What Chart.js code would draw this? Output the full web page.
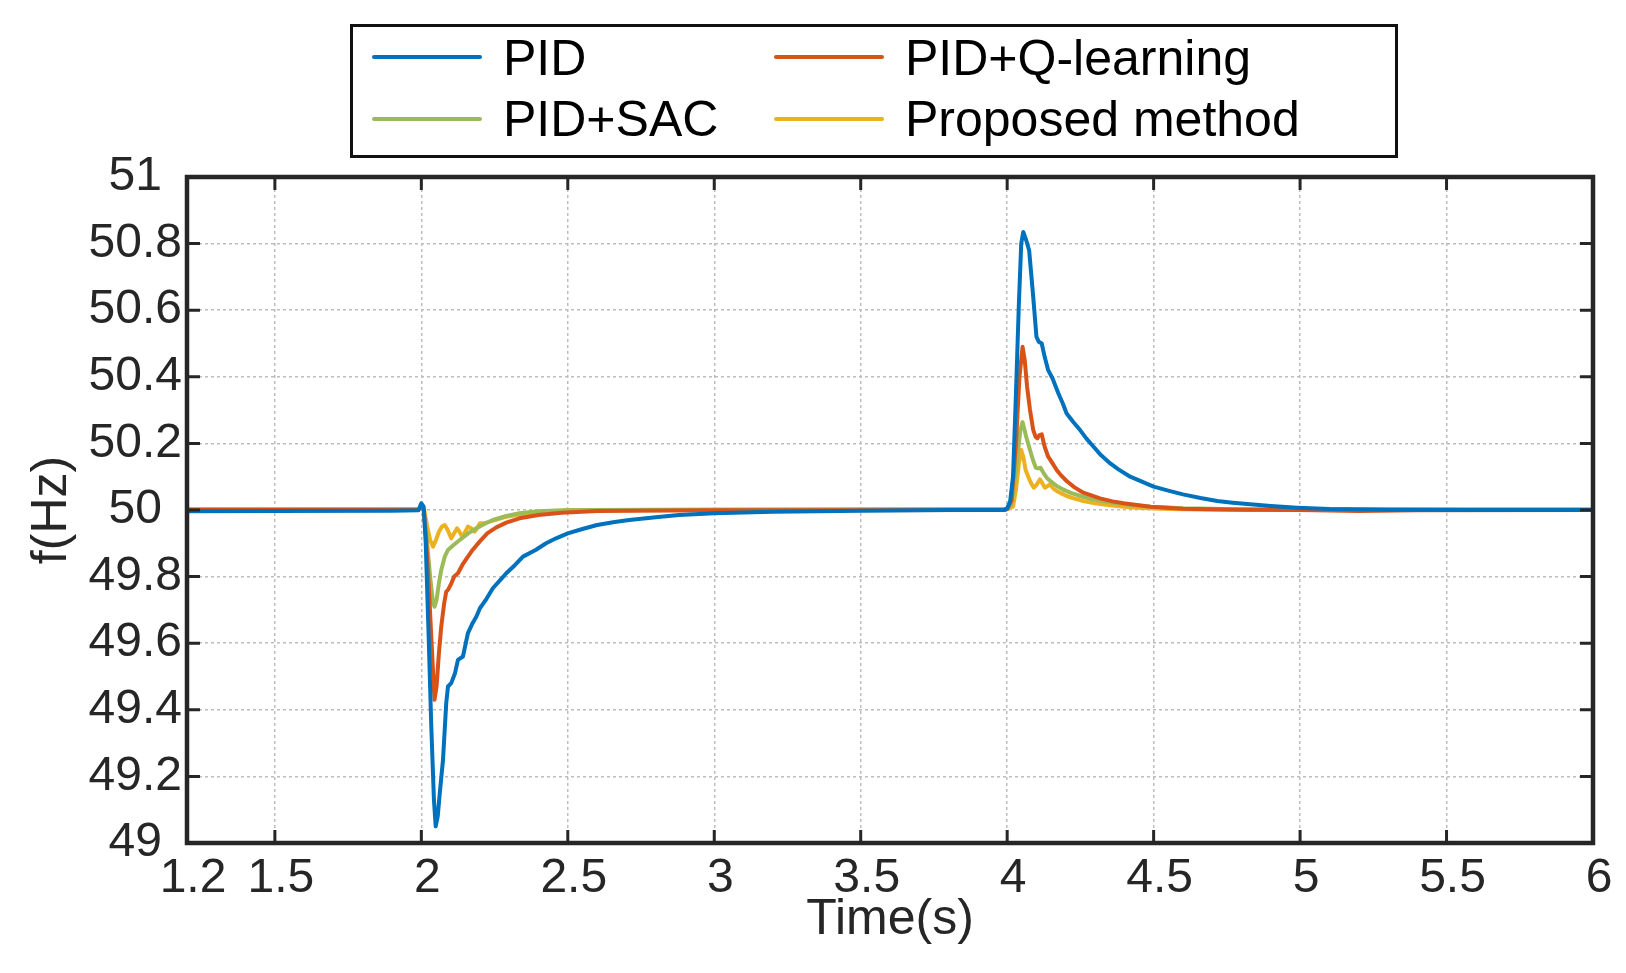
<!DOCTYPE html>
<html>
<head>
<meta charset="utf-8">
<title>Frequency response</title>
<script src="https://cdn.jsdelivr.net/npm/chart.js@4.4.1/dist/chart.umd.min.js"></script>
<style>
  body { margin: 0; background: #fff; }
  #wrap { position: relative; width: 1626px; height: 973px; }
  #legend { position: absolute; left: 350px; top: 24px; width: 1048px; height: 134px;
            border: 3px solid #111; box-sizing: border-box; background: #fff; }
  .label { position: absolute; font: 50px 'Liberation Sans', Arial, sans-serif; color: #000;
           line-height: 50px; white-space: nowrap; }
  .swatch { position: absolute; width: 110px; height: 4px; border-radius: 2px; }
</style>
</head>
<body>
<div id="wrap">
  <canvas id="chart" width="1626" height="973"></canvas>
  <div id="legend"></div>
</div>
<script>
const seriesNames = ['PID', 'PID+Q-learning', 'PID+SAC', 'Proposed method'];
const seriesColors = ['#0072BD', '#D95319', '#9BBB59', '#EDB120'];

const xTicks = [1.2, 1.5, 2, 2.5, 3, 3.5, 4, 4.5, 5, 5.5, 6];
const yTicks = [49, 49.2, 49.4, 49.6, 49.8, 50, 50.2, 50.4, 50.6, 50.8, 51];

// PID
const pidTime = [1.2, 1.5, 1.9, 1.99, 2.0, 2.008, 2.015, 2.025, 2.034, 2.043, 2.049, 2.056, 2.063, 2.074,
  2.085, 2.091, 2.102, 2.115, 2.125, 2.142, 2.159, 2.175, 2.188, 2.2, 2.22, 2.244, 2.27, 2.29, 2.32, 2.347,
  2.39, 2.426, 2.46, 2.5, 2.55, 2.6, 2.66, 2.71, 2.8, 2.88, 3.0, 3.2, 3.5, 3.8, 3.99,
  4.0, 4.01, 4.02, 4.03, 4.04, 4.048, 4.055, 4.065, 4.075, 4.088, 4.1, 4.108, 4.118, 4.128, 4.14, 4.155,
  4.175, 4.19, 4.203, 4.225, 4.249, 4.27, 4.295, 4.32, 4.352, 4.38, 4.42, 4.46, 4.5, 4.55, 4.6, 4.66,
  4.717, 4.77, 4.83, 4.9, 4.99, 5.1, 5.3, 5.6, 6.0];
const pidFreq = [49.996, 49.997, 49.998, 49.999, 50.02, 50.01, 49.9, 49.62, 49.35, 49.13, 49.05, 49.08, 49.15, 49.25,
  49.42, 49.47, 49.48, 49.51, 49.55, 49.56, 49.63, 49.66, 49.68, 49.705, 49.73, 49.765, 49.79, 49.81, 49.835, 49.86,
  49.88, 49.9, 49.915, 49.93, 49.943, 49.955, 49.964, 49.97, 49.978, 49.985, 49.99, 49.995, 49.998, 50, 50,
  50.005, 50.025, 50.1, 50.35, 50.62, 50.8, 50.835, 50.81, 50.78, 50.65, 50.52, 50.505, 50.5, 50.46, 50.42, 50.395,
  50.35, 50.32, 50.29, 50.265, 50.24, 50.215, 50.19, 50.165, 50.14, 50.122, 50.1, 50.085, 50.07, 50.058, 50.047, 50.036,
  50.027, 50.022, 50.017, 50.012, 50.007, 50.003, 50.001, 50, 50];

// PID+Q-learning
const qlTime = [1.2, 1.99, 2.0, 2.008, 2.015, 2.025, 2.035, 2.045, 2.052, 2.06, 2.068, 2.078, 2.085, 2.091,
  2.1, 2.112, 2.125, 2.14, 2.159, 2.175, 2.199, 2.225, 2.256, 2.29, 2.335, 2.4, 2.48, 2.6, 3.0, 3.99,
  4.0, 4.015, 4.03, 4.042, 4.0525, 4.06, 4.068, 4.078, 4.089, 4.097, 4.103, 4.11, 4.118, 4.128, 4.14, 4.155,
  4.169, 4.185, 4.203, 4.23, 4.26, 4.29, 4.317, 4.36, 4.397, 4.45, 4.49, 4.6, 4.8, 5.0, 5.2, 5.4, 6.0];
const qlFreq = [50, 50, 50.01, 50.0, 49.93, 49.78, 49.6, 49.43, 49.47, 49.57, 49.65, 49.72, 49.755, 49.76,
  49.775, 49.8, 49.81, 49.835, 49.86, 49.88, 49.905, 49.93, 49.948, 49.962, 49.975, 49.985, 49.992, 49.997, 49.999, 50,
  50.003, 50.03, 50.2, 50.4, 50.49, 50.45, 50.37, 50.3, 50.24, 50.22, 50.215, 50.225, 50.227, 50.19, 50.16, 50.14,
  50.12, 50.103, 50.087, 50.068, 50.052, 50.043, 50.035, 50.026, 50.02, 50.014, 50.01, 50.004, 50.001, 50, 49.997, 49.999, 50];

// PID+SAC
const sacTime = [1.2, 1.99, 2.0, 2.008, 2.018, 2.03, 2.04, 2.045, 2.052, 2.06, 2.068, 2.08, 2.091, 2.11,
  2.131, 2.16, 2.188, 2.215, 2.244, 2.29, 2.335, 2.4, 2.5, 3.99,
  4.0, 4.015, 4.03, 4.045, 4.0525, 4.065, 4.078, 4.088, 4.098, 4.106, 4.114, 4.125, 4.135, 4.15, 4.169,
  4.19, 4.215, 4.25, 4.283, 4.33, 4.374, 4.43, 4.49, 4.6, 4.8, 6.0];
const sacFreq = [50.002, 50.002, 50.01, 50.0, 49.92, 49.8, 49.72, 49.71, 49.73, 49.78, 49.82, 49.86, 49.88, 49.895,
  49.91, 49.93, 49.945, 49.958, 49.97, 49.982, 49.99, 49.996, 50, 50.002,
  50.002, 50.02, 50.12, 50.24, 50.264, 50.22, 50.18, 50.15, 50.127, 50.125, 50.127, 50.11, 50.097, 50.085, 50.072,
  50.062, 50.052, 50.042, 50.034, 50.026, 50.02, 50.014, 50.01, 50.005, 50.002, 50.002];

// Proposed method
const propTime = [1.2, 1.99, 2.0, 2.01, 2.02, 2.03, 2.04, 2.05, 2.06, 2.07, 2.08, 2.09, 2.102, 2.112,
  2.122, 2.13, 2.14, 2.15, 2.159, 2.17, 2.182, 2.19, 2.2, 2.215, 2.233, 2.26, 2.29, 2.33, 2.37, 2.45, 2.6, 3.99,
  4.0, 4.02, 4.03, 4.04, 4.048, 4.055, 4.063, 4.072, 4.082, 4.091, 4.1, 4.112, 4.12, 4.129, 4.138, 4.146,
  4.157, 4.169, 4.185, 4.203, 4.23, 4.26, 4.3, 4.352, 4.4, 4.443, 4.55, 4.7, 6.0];
const propFreq = [50.003, 50.003, 50.01, 50.0, 49.95, 49.91, 49.89, 49.91, 49.935, 49.95, 49.955, 49.94, 49.915, 49.93,
  49.945, 49.935, 49.92, 49.935, 49.95, 49.945, 49.935, 49.945, 49.96, 49.96, 49.965, 49.972, 49.98, 49.986, 49.99, 49.996, 50.0, 50.003,
  50.003, 50.01, 50.06, 50.14, 50.18, 50.16, 50.12, 50.1, 50.08, 50.067, 50.075, 50.092, 50.08, 50.067, 50.072, 50.077,
  50.065, 50.057, 50.05, 50.042, 50.034, 50.027, 50.02, 50.014, 50.01, 50.007, 50.003, 50.001, 50.001];

const seriesTimes = [pidTime, qlTime, sacTime, propTime];
const seriesFreqs = [pidFreq, qlFreq, sacFreq, propFreq];

const FONT = "'Liberation Sans', Arial, Helvetica, sans-serif";
const INK = '#262626';
Chart.defaults.font.family = FONT;
Chart.defaults.color = INK;

// MATLAB-like box with inward tick marks on all four sides
const framePlugin = {
  id: 'frame',
  afterDatasetsDraw(chart) {
    const { ctx, chartArea: a, scales: { x, y } } = chart;
    const len = 13;
    ctx.save();
    ctx.strokeStyle = INK;
    ctx.lineWidth = 3;
    ctx.beginPath();
    xTicks.forEach(v => {
      const px = x.getPixelForValue(v);
      ctx.moveTo(px, a.bottom); ctx.lineTo(px, a.bottom - len);
      ctx.moveTo(px, a.top); ctx.lineTo(px, a.top + len);
    });
    yTicks.forEach(v => {
      const py = y.getPixelForValue(v);
      ctx.moveTo(a.left, py); ctx.lineTo(a.left + len, py);
      ctx.moveTo(a.right, py); ctx.lineTo(a.right - len, py);
    });
    ctx.stroke();
    ctx.lineWidth = 4.5;
    ctx.strokeRect(a.left, a.top, a.right - a.left, a.bottom - a.top);
    ctx.restore();
  }
};

const chart = new Chart(document.getElementById('chart'), {
  type: 'line',
  data: {
    datasets: seriesNames.map((name, i) => ({
      label: name,
      data: seriesTimes[i].map((t, k) => ({ x: t, y: seriesFreqs[i][k] })),
      borderColor: seriesColors[i],
      backgroundColor: seriesColors[i],
      borderWidth: 4,
      borderJoinStyle: 'round',
      borderCapStyle: 'round',
      pointRadius: 0,
      tension: 0,
      fill: false
    }))
  },
  options: {
    responsive: false,
    animation: false,
    layout: { padding: { left: 0, right: 33, top: 177, bottom: 0 } },
    plugins: {
      legend: { display: false },
      tooltip: { enabled: false }
    },
    scales: {
      x: {
        type: 'linear',
        min: 1.2,
        max: 6,
        afterBuildTicks: s => { s.ticks = xTicks.map(v => ({ value: v })); },
        afterFit: s => { s.height = 130; },
        ticks: { autoSkip: false, maxRotation: 0, padding: 7, labelOffset: 6, color: INK, font: { size: 48 },
                 callback: v => String(v) },
        grid: { color: '#bdbdbd', lineWidth: 1.5, drawTicks: false },
        border: { display: false, dash: [3, 3] },
        title: { display: true, text: 'Time(s)', color: INK, font: { size: 50 },
                 padding: { top: 0, bottom: 23 } }
      },
      y: {
        min: 49,
        max: 51,
        afterBuildTicks: s => { s.ticks = yTicks.map(v => ({ value: v })); },
        afterFit: s => { s.width = 187; },
        ticks: { crossAlign: 'center', padding: 5, color: INK, font: { size: 48 },
                 callback: v => String(v) },
        grid: { color: '#bdbdbd', lineWidth: 1.5, drawTicks: false },
        border: { display: false, dash: [3, 3] },
        title: { display: true, text: 'f(Hz)', color: INK, font: { size: 50 },
                 padding: { top: 22, bottom: 0 } }
      }
    }
  },
  plugins: [framePlugin]
});

// legend box, two columns like the original figure
const legend = document.getElementById('legend');
const colX = [[19, 150], [421, 552]];
const rowY = [[28, 6], [90, 67]];
seriesNames.forEach((name, n) => {
  const col = n % 2, row = Math.floor(n / 2);
  const sw = document.createElement('div');
  sw.className = 'swatch';
  sw.style.left = colX[col][0] + 'px';
  sw.style.top = rowY[row][0] + 'px';
  sw.style.background = seriesColors[n];
  legend.appendChild(sw);
  const tx = document.createElement('div');
  tx.className = 'label';
  tx.style.left = colX[col][1] + 'px';
  tx.style.top = rowY[row][1] + 'px';
  tx.textContent = name;
  legend.appendChild(tx);
});
</script>
</body>
</html>
